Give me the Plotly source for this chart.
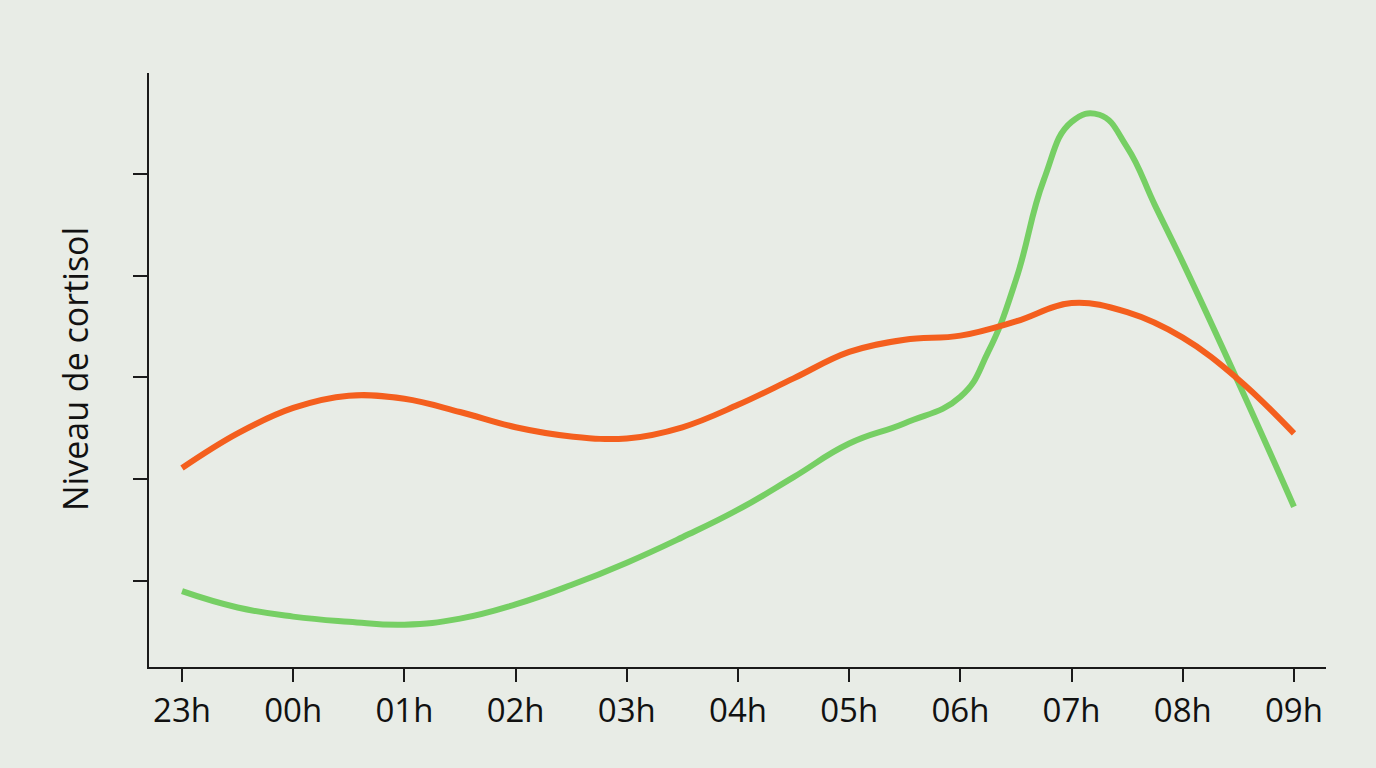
import plotly.graph_objects as go

# Hours since 23h (0 = 23h, 10 = 09h)
tick_vals = [0, 1, 2, 3, 4, 5, 6, 7, 8, 9, 10]
tick_labels = ["23h", "00h", "01h", "02h", "03h", "04h", "05h", "06h", "07h", "08h", "09h"]

# Orange series (flattened rhythm)
orange_t = [0, 0.5, 1, 1.5, 2, 2.5, 3, 3.5, 4, 4.5, 5, 5.5, 6, 6.5, 7, 7.5, 8, 8.5, 9, 9.5, 10]
orange_v = [2.11, 2.45, 2.70, 2.82, 2.79, 2.66, 2.51, 2.42, 2.40, 2.51, 2.73, 2.99, 3.25, 3.37,
            3.41, 3.55, 3.73, 3.64, 3.39, 2.98, 2.45]

# Green series (normal rhythm with morning peak)
green_t = [0, 0.5, 1, 1.5, 2, 2.5, 3, 3.5, 4, 4.5, 5, 5.5, 6, 6.5, 7, 7.25, 7.5, 7.75,
           8, 8.25, 8.5, 8.75, 9, 9.5, 10]
green_v = [0.90, 0.74, 0.65, 0.60, 0.57, 0.63, 0.77, 0.96, 1.18, 1.43, 1.70, 2.02, 2.35, 2.55,
           2.81, 3.25, 3.96, 4.94, 5.51, 5.58, 5.26, 4.69, 4.13, 2.95, 1.73]

y_ticks = [1, 2, 3, 4, 5]

fig = go.Figure()
fig.add_trace(go.Scatter(x=green_t, y=green_v, mode="lines",
                         line=dict(color="#76CF64", width=6, shape="spline", smoothing=1.3),
                         showlegend=False, hoverinfo="skip"))
fig.add_trace(go.Scatter(x=orange_t, y=orange_v, mode="lines",
                         line=dict(color="#F45F1E", width=6, shape="spline", smoothing=1.1),
                         showlegend=False, hoverinfo="skip"))

bg = "#E8ECE6"
fig.update_layout(
    width=1376, height=768,
    paper_bgcolor=bg, plot_bgcolor=bg,
    margin=dict(l=149, r=50, t=73, b=101),
    font=dict(family="Open Sans", color="#111111"),
    xaxis=dict(range=[-0.297, 10.288], tickvals=tick_vals, ticktext=tick_labels,
               showline=True, linecolor="#1a1a1a", linewidth=2,
               ticks="outside", ticklen=13, tickwidth=2, tickcolor="#1a1a1a",
               showgrid=False, zeroline=False, tickfont=dict(size=33, color="#111111")),
    yaxis=dict(range=[0.155, 5.99], tickvals=y_ticks, showticklabels=False,
               showline=True, linecolor="#1a1a1a", linewidth=2,
               ticks="outside", ticklen=14, tickwidth=2, tickcolor="#1a1a1a",
               showgrid=False, zeroline=False),
    annotations=[dict(text="Niveau de cortisol", textangle=-90, xref="paper", yref="paper",
                      x=(75 - 149) / 1177, y=(667 - 369) / 594, xanchor="center", yanchor="middle",
                      showarrow=False, font=dict(size=34, color="#111111", family="Open Sans"))],
)

fig.write_html("out.html")
